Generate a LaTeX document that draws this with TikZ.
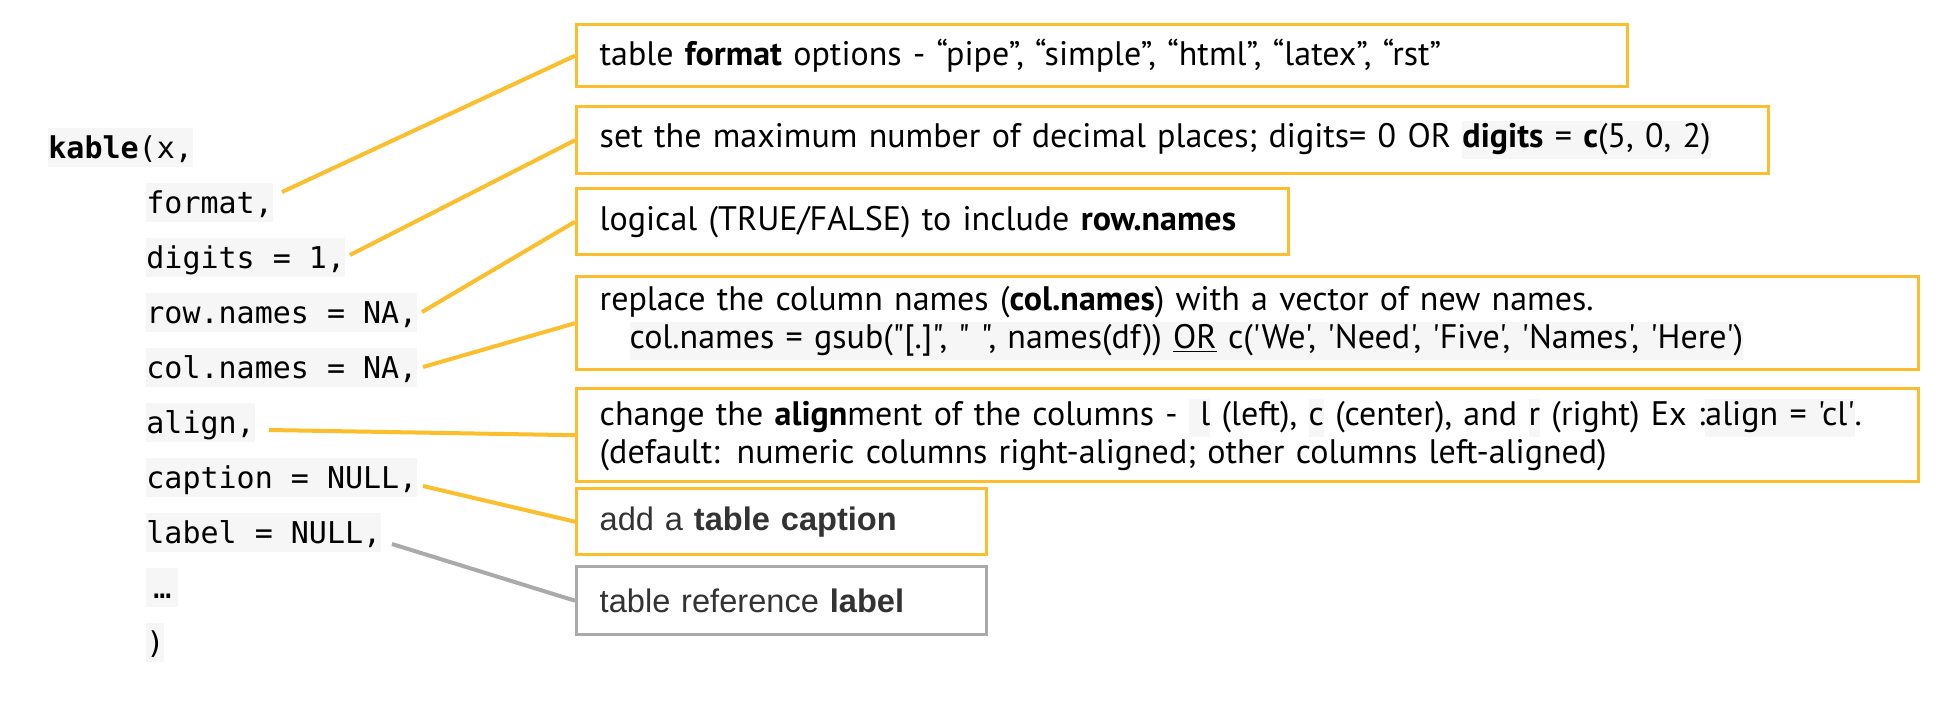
\documentclass[tikz,border=0pt]{standalone}
\usepackage{fontspec}
\setmainfont{PT Sans}[Ligatures=TeXOff]
\newfontfamily\codefont{DejaVu Sans Mono}
\newfontfamily\arialfont{Liberation Sans}
\definecolor{orangeline}{RGB}{251,190,45}
\definecolor{greyline}{RGB}{170,170,170}
\definecolor{codebg}{RGB}{246,246,246}
\definecolor{darktext}{RGB}{51,51,51}
\newcommand{\hlt}[1]{{\setlength{\fboxsep}{0pt}\colorbox{codebg}{\strut #1}}}
\tikzset{
  code/.style={anchor=base west, fill=codebg, inner xsep=0pt, inner ysep=0pt,
    text height=15pt, text depth=4.5pt, font=\codefont\fontsize{15}{18}\selectfont},
  infobox/.style={draw=orangeline, line width=1.7pt, anchor=north west,
    inner xsep=11.5pt, inner ysep=0pt, align=left, fill=white,
    font=\fontsize{17}{19}\selectfont},
  greybox/.style={infobox, draw=greyline, text=darktext,
    font=\arialfont\fontsize{16.3}{19}\selectfont},
  orangebox/.style={infobox, text=darktext, font=\arialfont\fontsize{16.3}{19}\selectfont},
  link/.style={draw=orangeline, line width=2pt},
  greylink/.style={draw=greyline, line width=2pt},
}
\begin{document}
\begin{tikzpicture}[x=0.5pt,y=-0.5pt]
\useasboundingbox[fill=white] (0,0) rectangle (1936,708);
% code column
\node[code] (kable) at (48,158) {{\bfseries kable}(x,};
\node[code] (format) at (146,213) {format,};
\node[code] (digits) at (146,268) {digits = 1,};
\node[code] (rownames) at (146,323) {row.names = NA,};
\node[code] (colnames) at (146,378) {col.names = NA,};
\node[code] (align) at (146,433) {align,};
\node[code] (caption) at (146,488) {caption = NULL,};
\node[code] (label) at (146,543) {label = NULL,};
\node[code] (dots) at (146,598) {\makebox[16pt][c]{\mdseries …}};
\node[code] (close) at (146,653) {)};
% connector start points
\coordinate (cformat) at (282,192);
\coordinate (cdigits) at (350,255);
\coordinate (crow) at (422,312);
\coordinate (ccol) at (423,367);
\coordinate (calign) at (269,430);
\coordinate (ccaption) at (423,486);
\coordinate (clabel) at (392,544);
% boxes
\node[infobox, minimum width=525.5pt, minimum height=31pt, text width=502.5pt] (b1) at (575,23)
  {table \textbf{format} options - “pipe”, “simple”, “html”, “latex”, “rst”};
\node[infobox, minimum width=596pt, minimum height=33.5pt, text width=573pt] (b2) at (575,105)
  {set the maximum number of decimal places; digits= 0 OR \hlt{\textbf{digits} = \textbf{c}(5, 0, 2)}};
\node[infobox, minimum width=356pt, minimum height=33pt, text width=333pt] (b3) at (575,187)
  {logical (TRUE/FALSE) to include \textbf{row.names}};
\node[infobox, minimum width=671pt, minimum height=46.5pt, text width=648pt] (b4) at (575,275)
  {replace the column names (\textbf{col.names}) with a vector of new names.\\
   \hspace*{15pt}\hlt{col.names = gsub("[.]", " ", names(df)) \underline{OR} c('We', 'Need', 'Five', 'Names', 'Here')}};
\node[infobox, minimum width=671pt, minimum height=46.5pt, text width=648pt] (b5) at (575,387)
  {change the \textbf{align}ment of the columns - \hlt{ l} (left), \hlt{c} (center), and \hlt{r} (right) Ex :\hlt{align = 'cl'}.\\
   (default: numeric columns right-aligned; other columns left-aligned)};
\node[orangebox, minimum width=205pt, minimum height=33pt, text width=182pt] (b6) at (575,487)
  {add a \textbf{table caption}};
\node[greybox, minimum width=205pt, minimum height=34pt, text width=182pt] (b7) at (575,565)
  {table reference \textbf{label}};
% connectors
\draw[link] (cformat) -- (b1.west);
\draw[link] (cdigits) -- (b2.west);
\draw[link] (crow) -- (b3.west);
\draw[link] (ccol) -- (b4.west);
\draw[link] (calign) -- (b5.west);
\draw[link] (ccaption) -- (b6.west);
\draw[greylink] (clabel) -- (b7.west);
\end{tikzpicture}
\end{document}
